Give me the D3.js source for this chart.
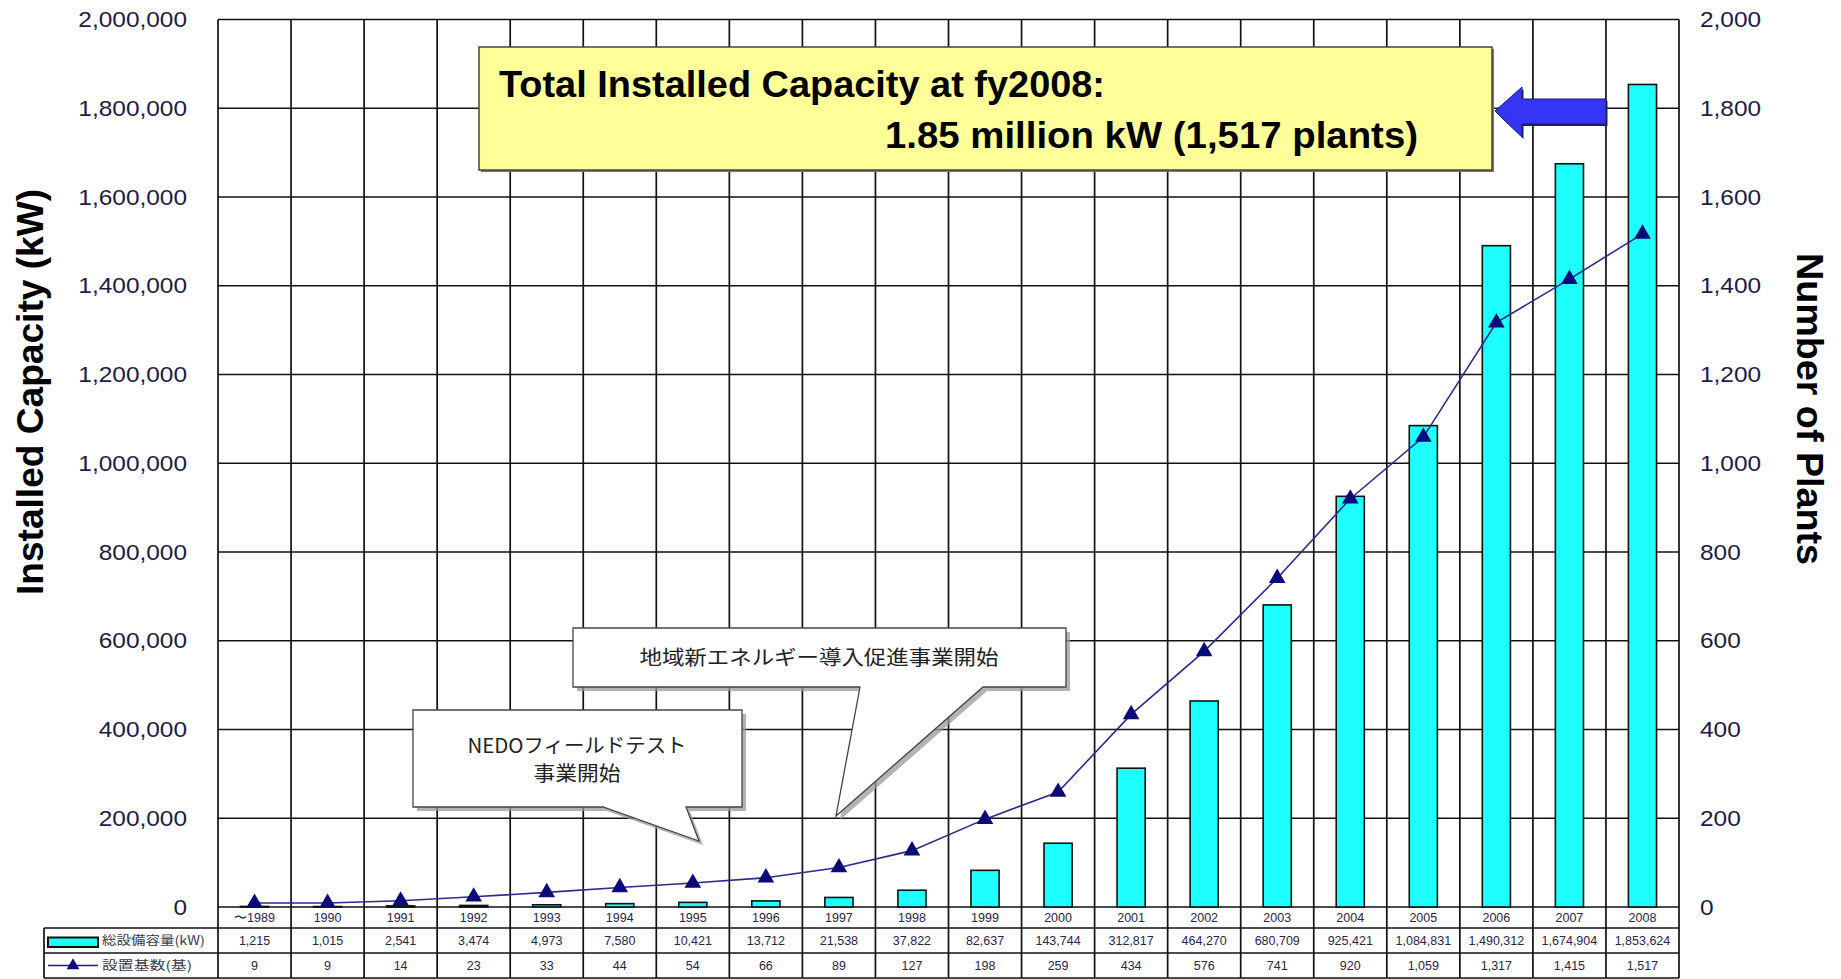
<!DOCTYPE html>
<html>
<head>
<meta charset="utf-8">
<script src="https://cdn.jsdelivr.net/npm/d3@7"></script>
<style>
  html, body { margin: 0; padding: 0; background: #fff; }
  svg { display: block; }
</style>
</head>
<body>
<svg id="chart" width="1841" height="979"></svg>
<script>
// ---- data -------------------------------------------------------------
const years = ["〜1989", "1990", "1991", "1992", "1993", "1994", "1995", "1996", "1997", "1998",
               "1999", "2000", "2001", "2002", "2003", "2004", "2005", "2006", "2007", "2008"];
const capacityKW = [1215, 1015, 2541, 3474, 4973, 7580, 10421, 13712, 21538, 37822,
                    82637, 143744, 312817, 464270, 680709, 925421, 1084831, 1490312, 1674904, 1853624];
const plantCount = [9, 9, 14, 23, 33, 44, 54, 66, 89, 127,
                    198, 259, 434, 576, 741, 920, 1059, 1317, 1415, 1517];
const capacityTicks = [0, 200000, 400000, 600000, 800000, 1000000, 1200000, 1400000, 1600000, 1800000, 2000000];
const plantTicks = [0, 200, 400, 600, 800, 1000, 1200, 1400, 1600, 1800, 2000];
const seriesNames = ["総設備容量(kW)", "設置基数(基)"];
const axisTitles = ["Installed Capacity (kW)", "Number of Plants"];
const headline = ["Total Installed Capacity at fy2008:", "1.85 million kW (1,517 plants)"];
const noteRegional = ["地域新エネルギー導入促進事業開始"];
const noteNedo = ["NEDOフィールドテスト", "事業開始"];

// ---- layout -----------------------------------------------------------
const W = 1841, H = 979;
const plot = { left: 218, right: 1679, top: 19.5, bottom: 907 };
const table = { legendLeft: 44, rowYear: 928, rowCap: 953, rowCount: 978 };
const barFrac = 0.385;
const inkNavy = "#1c1c46";

const svg = d3.select("#chart");

const x = d3.scaleBand().domain(years).range([plot.left, plot.right]).padding(0);
const yCap = d3.scaleLinear().domain([0, 2000000]).range([plot.bottom, plot.top]);
const yCnt = d3.scaleLinear().domain([0, 2000]).range([plot.bottom, plot.top]);
const fmt = d3.format(",");

svg.append("rect").attr("width", W).attr("height", H).attr("fill", "#fff");

// ---- grid -------------------------------------------------------------
const grid = svg.append("g").attr("stroke", "#111").attr("stroke-width", 1.7).attr("fill", "none");
grid.selectAll("line.h").data(capacityTicks).join("line")
  .attr("x1", plot.left).attr("x2", plot.right)
  .attr("y1", d => yCap(d)).attr("y2", d => yCap(d));
// column boundaries run through the plot and the data table below it
const bounds = years.map(d => x(d)).concat([plot.right]);
grid.selectAll("line.v").data(bounds).join("line")
  .attr("x1", d => d).attr("x2", d => d)
  .attr("y1", plot.top).attr("y2", table.rowCount);
// table rows
grid.append("line").attr("x1", table.legendLeft).attr("x2", plot.right).attr("y1", table.rowYear).attr("y2", table.rowYear);
grid.append("line").attr("x1", table.legendLeft).attr("x2", plot.right).attr("y1", table.rowCap).attr("y2", table.rowCap);
grid.append("line").attr("x1", table.legendLeft).attr("x2", plot.right).attr("y1", table.rowCount).attr("y2", table.rowCount);
grid.append("line").attr("x1", table.legendLeft).attr("x2", table.legendLeft).attr("y1", table.rowYear).attr("y2", table.rowCount);

// ---- bars -------------------------------------------------------------
const bw = x.bandwidth() * barFrac;
svg.append("g").selectAll("rect").data(years).join("rect")
  .attr("x", d => x(d) + (x.bandwidth() - bw) / 2)
  .attr("width", bw)
  .attr("y", (d, i) => yCap(capacityKW[i]))
  .attr("height", (d, i) => plot.bottom - yCap(capacityKW[i]))
  .attr("fill", "#1effff")
  .attr("stroke", "#111")
  .attr("stroke-width", 1.6);

// ---- plant count line --------------------------------------------------
const cx = d => x(d) + x.bandwidth() / 2;
const line = d3.line().x(d => cx(d)).y((d, i) => yCnt(plantCount[i]));
svg.append("path").datum(years)
  .attr("d", line)
  .attr("fill", "none")
  .attr("stroke", "#2a2a8e")
  .attr("stroke-width", 1.6);
svg.append("g").selectAll("path").data(years).join("path")
  .attr("transform", (d, i) => `translate(${cx(d)},${yCnt(plantCount[i])})`)
  .attr("d", d3.symbol(d3.symbolTriangle).size(120))
  .attr("fill", "#0a0a78");

// ---- axes -------------------------------------------------------------
function stretch(sel, k) {
  sel.each(function () {
    const len = this.getComputedTextLength();
    d3.select(this).attr("textLength", len * k).attr("lengthAdjust", "spacingAndGlyphs");
  });
}
const axL = svg.append("g").attr("transform", `translate(${plot.left},0)`)
  .call(d3.axisLeft(yCap).tickValues(capacityTicks).tickFormat(fmt).tickSize(0).tickPadding(31));
const axR = svg.append("g").attr("transform", `translate(${plot.right},0)`)
  .call(d3.axisRight(yCnt).tickValues(plantTicks).tickFormat(fmt).tickSize(0).tickPadding(21));
[axL, axR].forEach(ax => {
  ax.select(".domain").remove();
  ax.selectAll("text")
    .attr("font-family", "'Liberation Sans', Arial, sans-serif")
    .attr("font-size", 22)
    .attr("fill", inkNavy)
    .call(stretch, 1.11);
});

// axis titles
svg.append("text")
  .attr("transform", "translate(43,392) rotate(-90)")
  .attr("text-anchor", "middle")
  .attr("font-family", "'Liberation Sans', Arial, sans-serif")
  .attr("font-weight", "bold")
  .attr("font-size", 36)
  .attr("fill", "#000")
  .attr("textLength", 406).attr("lengthAdjust", "spacingAndGlyphs")
  .text(axisTitles[0]);
svg.append("text")
  .attr("transform", "translate(1797,409) rotate(90)")
  .attr("text-anchor", "middle")
  .attr("font-family", "'Liberation Sans', Arial, sans-serif")
  .attr("font-weight", "bold")
  .attr("font-size", 36)
  .attr("fill", "#000")
  .attr("textLength", 312).attr("lengthAdjust", "spacingAndGlyphs")
  .text(axisTitles[1]);

// ---- data table -------------------------------------------------------
const tFont = "'Liberation Sans', Arial, sans-serif";
const rowMid = [(plot.bottom + table.rowYear) / 2, (table.rowYear + table.rowCap) / 2, (table.rowCap + table.rowCount) / 2];
const rows = [years, capacityKW.map(fmt), plantCount.map(fmt)];
rows.forEach((vals, r) => {
  svg.append("g").selectAll("text").data(vals).join("text")
    .attr("x", (d, i) => cx(years[i]))
    .attr("y", rowMid[r])
    .attr("dy", "0.36em")
    .attr("text-anchor", "middle")
    .attr("font-family", tFont)
    .attr("font-size", 12.5)
    .attr("fill", "#2a2448")
    .text(d => d)
    .each(function () {
      const len = this.getComputedTextLength();
      if (len > 62) d3.select(this).attr("textLength", 62).attr("lengthAdjust", "spacingAndGlyphs");
    });
});

// legend cells
svg.append("rect").attr("x", 48).attr("y", 937.5).attr("width", 50).attr("height", 9.5)
  .attr("fill", "#1effff").attr("stroke", "#111").attr("stroke-width", 2);
svg.append("line").attr("x1", 48).attr("x2", 98).attr("y1", rowMid[2]).attr("y2", rowMid[2])
  .attr("stroke", "#1a1a8a").attr("stroke-width", 1.6);
svg.append("path").attr("transform", `translate(73,${rowMid[2]})`)
  .attr("d", d3.symbol(d3.symbolTriangle).size(70)).attr("fill", "#0a0a78");
seriesNames.forEach((s, i) => {
  svg.append("text").attr("x", 102).attr("y", rowMid[i + 1]).attr("dy", "0.36em")
    .attr("font-family", "'Noto Sans CJK JP', sans-serif")
    .attr("font-size", 12.5).attr("fill", "#3a3a4a")
    .attr("textLength", i === 0 ? 103 : 90).attr("lengthAdjust", "spacingAndGlyphs")
    .text(s);
});

// ---- annotations ------------------------------------------------------
const jp = "'Noto Sans CJK JP', sans-serif";
function bubble(p) {
  const d = `M${p.x0},${p.y0} H${p.x1} V${p.y1} H${p.tb} L${p.tx},${p.ty} L${p.ta},${p.y1} H${p.x0} Z`;
  svg.append("path").attr("d", d).attr("transform", "translate(4,4)").attr("fill", "#9a9a9a").attr("opacity", 0.75);
  svg.append("path").attr("d", d).attr("fill", "#fff").attr("stroke", "#444").attr("stroke-width", 1.3);
}
bubble({ x0: 573, y0: 628, x1: 1066, y1: 687, ta: 860, tb: 983, tx: 836, ty: 816 });
svg.append("text").attr("x", 819).attr("y", 658).attr("dy", "0.36em")
  .attr("text-anchor", "middle").attr("font-family", jp).attr("font-size", 20).attr("fill", "#222")
  .attr("textLength", 359).attr("lengthAdjust", "spacingAndGlyphs")
  .text(noteRegional[0]);

bubble({ x0: 413, y0: 710, x1: 742, y1: 807, ta: 603, tb: 686, tx: 699, ty: 841 });
svg.append("text").attr("x", 577).attr("y", 746).attr("dy", "0.36em")
  .attr("text-anchor", "middle").attr("font-family", jp).attr("font-size", 20).attr("fill", "#222")
  .attr("textLength", 219).attr("lengthAdjust", "spacingAndGlyphs")
  .text(noteNedo[0]);
svg.append("text").attr("x", 577).attr("y", 774).attr("dy", "0.36em")
  .attr("text-anchor", "middle").attr("font-family", jp).attr("font-size", 20).attr("fill", "#222")
  .attr("textLength", 87).attr("lengthAdjust", "spacingAndGlyphs")
  .text(noteNedo[1]);

// headline box
svg.append("rect").attr("x", 481).attr("y", 49).attr("width", 1013).attr("height", 123).attr("fill", "#777");
svg.append("rect").attr("x", 479).attr("y", 47).attr("width", 1013).attr("height", 123)
  .attr("fill", "#ffff99").attr("stroke", "#444").attr("stroke-width", 1.5);
svg.append("text").attr("x", 499).attr("y", 97)
  .attr("font-family", "'Liberation Sans', Arial, sans-serif").attr("font-weight", "bold")
  .attr("font-size", 36).attr("fill", "#000")
  .attr("textLength", 606).attr("lengthAdjust", "spacingAndGlyphs")
  .text(headline[0]);
svg.append("text").attr("x", 885).attr("y", 148)
  .attr("font-family", "'Liberation Sans', Arial, sans-serif").attr("font-weight", "bold")
  .attr("font-size", 36).attr("fill", "#000")
  .attr("textLength", 533).attr("lengthAdjust", "spacingAndGlyphs")
  .text(headline[1]);

// arrow pointing from the 2008 bar to the headline
const arrowPts = [[1495, 111], [1522, 87], [1522, 99], [1606, 99], [1606, 124], [1522, 124], [1522, 137]];
svg.append("polygon").attr("points", arrowPts.map(p => [p[0] + 1.5, p[1] + 2]).join(" ")).attr("fill", "#22225a");
svg.append("polygon").attr("points", arrowPts.join(" "))
  .attr("fill", "#3535f5").attr("stroke", "#1c1c70").attr("stroke-width", 1);
</script>
</body>
</html>
